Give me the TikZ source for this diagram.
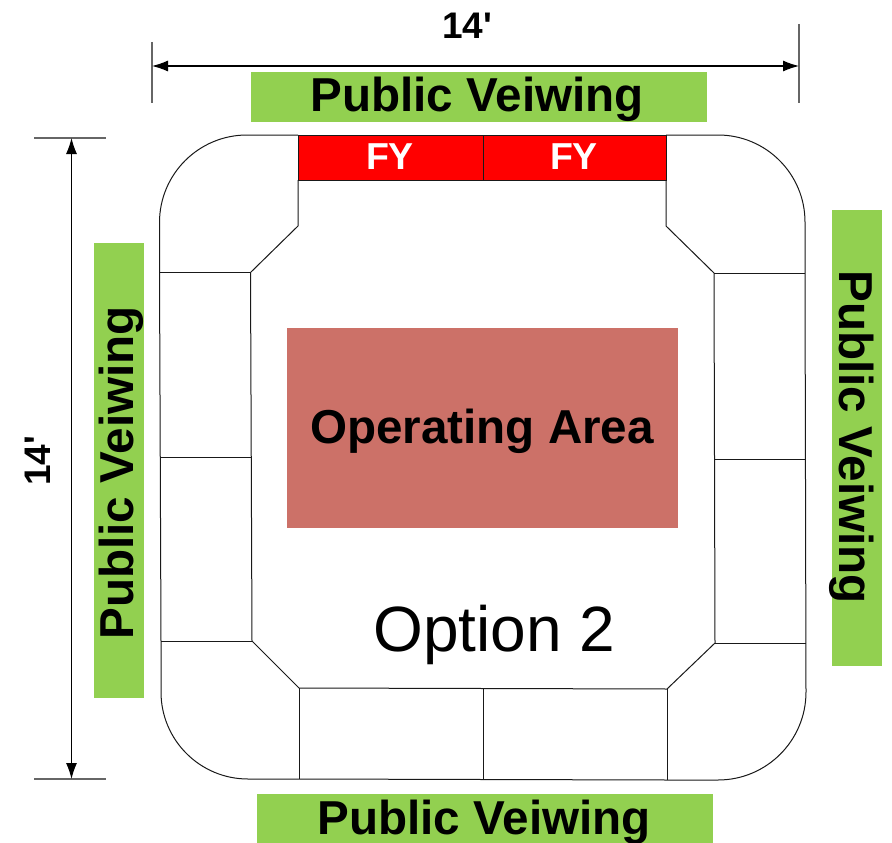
\documentclass[tikz,border=0pt]{standalone}
\usepackage{fontspec}
\setmainfont{Liberation Sans}
\newfontfamily\dimfont{Liberation Sans}
\usetikzlibrary{arrows.meta}
\definecolor{pubgreen}{HTML}{92D050}
\definecolor{oparea}{HTML}{CC7168}
\tikzset{
  wall/.style={draw=black!90,line width=1pt},
  greenbox/.style={fill=pubgreen,draw=none},
  biglabel/.style={font=\fontsize{47.6}{48}\selectfont\bfseries,inner sep=0pt,anchor=center},
  fylabel/.style={font=\fontsize{37.5}{38}\selectfont\bfseries,text=white,inner sep=0pt},
  dimlabel/.style={font=\dimfont\fontsize{37}{37}\selectfont\bfseries,inner sep=0pt},
  dimline/.style={draw=black,line width=1.1pt,{Latex[length=16pt,width=11pt]}-{Latex[length=16pt,width=11pt]}},
  tick/.style={draw=black!60,line width=1.2pt}
}
\begin{document}
\begin{tikzpicture}[x=1pt,y=-1pt]
\useasboundingbox (0,0) rectangle (892,843);
% public viewing bands
\fill[greenbox] (251,72) rectangle (707,122);
\fill[greenbox] (257,794) rectangle (713,843);
\fill[greenbox] (94,243) rectangle (144,698);
\fill[greenbox] (832,210) rectangle (882,666);
\node[biglabel] (ptop) at (477,99) {Public Veiwing};
\node[biglabel] (pbot) at (484,822) {Public Veiwing};
\node[biglabel,rotate=90] (pleft) at (121,473) {Public Veiwing};
\node[biglabel,rotate=-90] (pright) at (852,437) {Public Veiwing};
% operating area
\fill[oparea] (287,328) rectangle (678,528);
\node[biglabel] (op) at (482,431) {Operating Area};
\node[font=\fontsize{64}{64}\selectfont,inner sep=0pt] (opt) at (494.5,635) {Option 2};
% outline
\draw[wall] (298,135) -- (247,135) arc[start angle=270,end angle=180,radius=87.5] -- (159.5,272.5) -- (161,641)
  -- (161,692) arc[start angle=180,end angle=90,radius=87] -- (299,779) -- (667,780) -- (718,780)
  arc[start angle=90,end angle=0,radius=88] -- (805,273) -- (805,222)
  arc[start angle=0,end angle=-90,radius=87] -- (666,135);
% inner wall
\draw[wall] (298,180) -- (298,226) -- (250.5,272.5) -- (252,641) -- (299,688) -- (667,689) -- (715,643) -- (714,273) -- (666,226) -- (666,180);
% dividers
\draw[wall] (159.5,272.5) -- (250.5,272.5);
\draw[wall] (160,457) -- (251,457);
\draw[wall] (161,641) -- (252,641);
\draw[wall] (714,273) -- (805,273);
\draw[wall] (715,459) -- (805,459);
\draw[wall] (715,643) -- (806,643);
\draw[wall] (299,688) -- (299,779);
\draw[wall] (483.5,688) -- (483.5,780);
\draw[wall] (667,689) -- (667,780);
% FY
\fill[red] (298,135) rectangle (666,180);
\draw[wall] (298,135) rectangle (666,180);
\draw[wall] (483,135) -- (483,180);
\node[fylabel] (fy1) at (390,157) {FY};
\node[fylabel] (fy2) at (574,157) {FY};
% dimensions
\coordinate (hl) at (152,66); \coordinate (hr) at (799,66);
\coordinate (vt) at (71.5,138); \coordinate (vb) at (71.5,779);
\draw[tick] (152,42) -- (152,103);
\draw[tick] (799,24) -- (799,103);
\draw[tick] (34,138) -- (106,138);
\draw[tick] (34,779) -- (106,779);
\draw[dimline] (hl) -- (hr);
\draw[dimline] (vt) -- (vb);
\node[dimlabel] (d1) at (467,26) {14'};
\node[dimlabel,rotate=90] (d2) at (38,461) {14'};
\end{tikzpicture}
\end{document}
